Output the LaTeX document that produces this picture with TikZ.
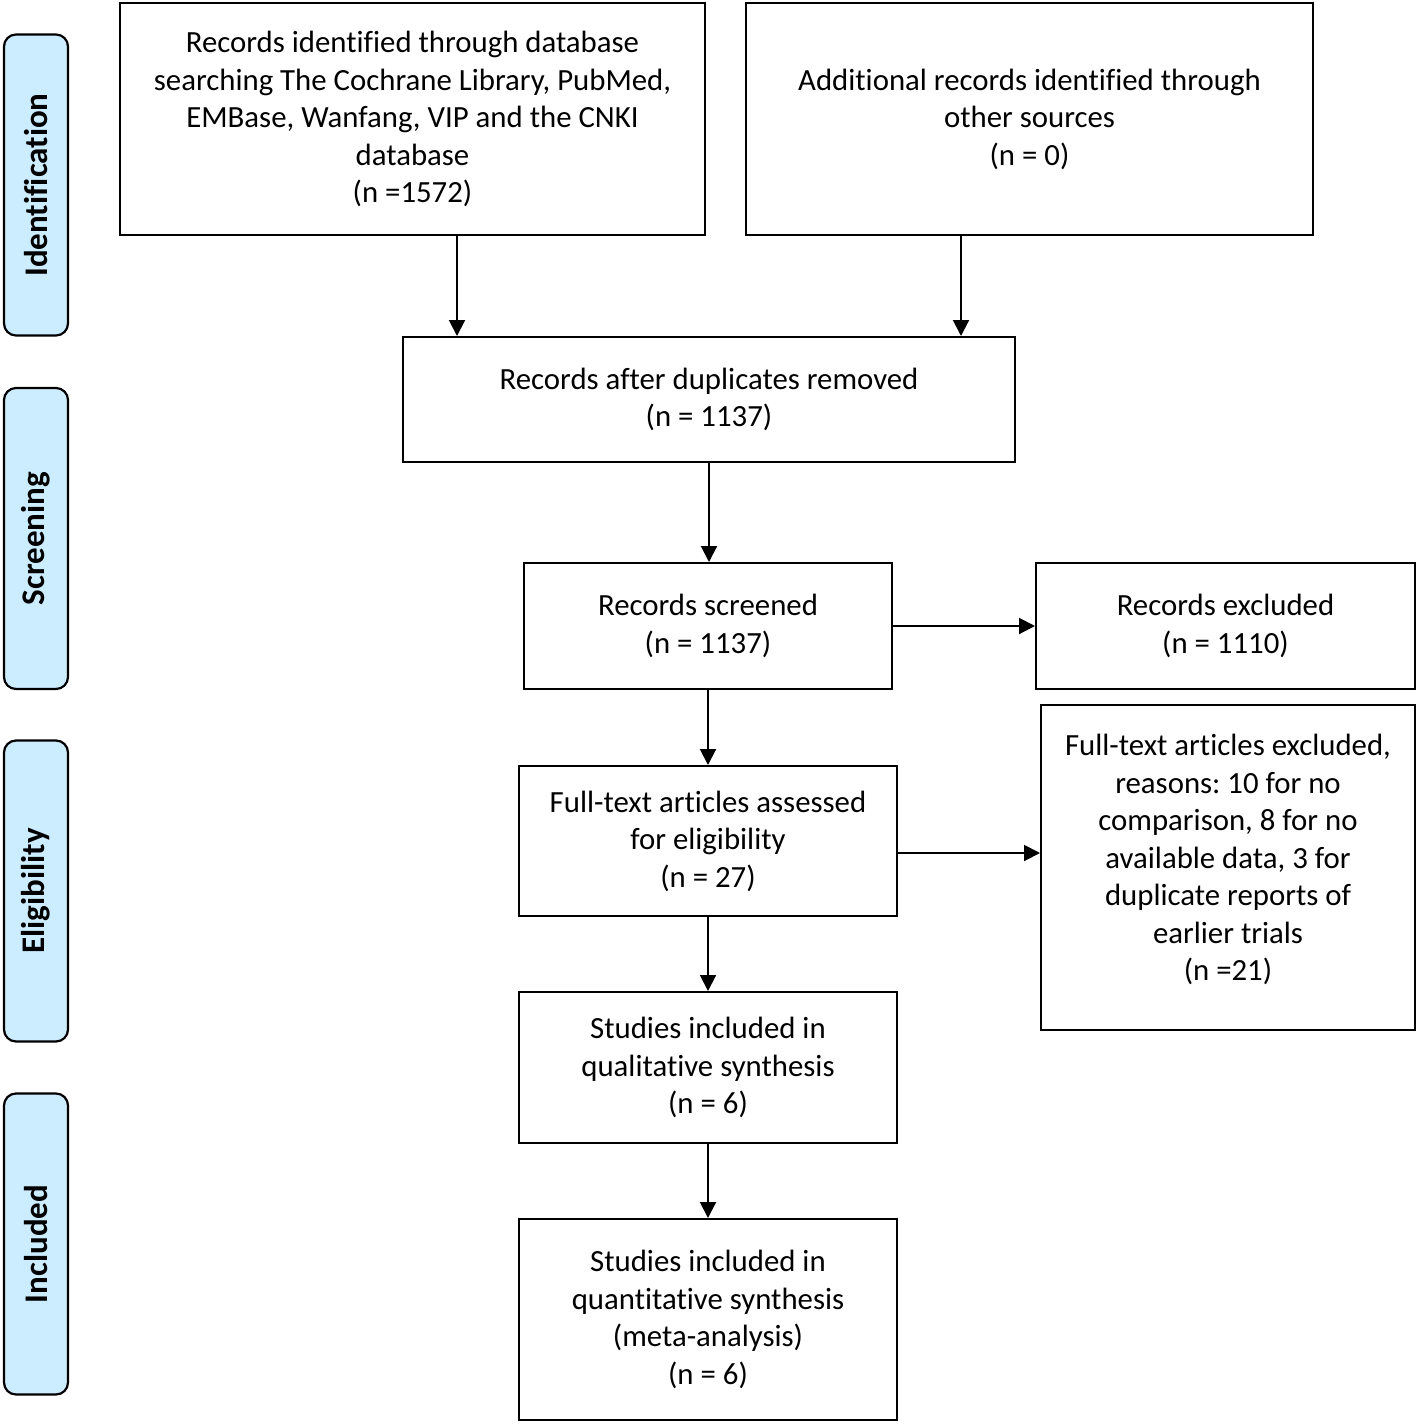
\documentclass[tikz,border=0pt]{standalone}
\usepackage{fontspec}
\setmainfont[Ligatures=NoCommon]{Carlito}
\usetikzlibrary{arrows.meta}
\definecolor{stagefill}{RGB}{204,236,255}
\frenchspacing
\tikzset{
  x=1pt, y=1pt,
  box/.style={draw=black, line width=2pt, fill=white, align=center, inner sep=0pt,
    font=\fontsize{30.8}{37.5}\selectfont},
  stage/.style={draw=black, line width=2.2pt, fill=stagefill, rounded corners=12pt,
    minimum width=64pt, minimum height=301pt, inner sep=0pt},
  stagetext/.style={rotate=90, font=\fontsize{33}{38}\selectfont\bfseries},
  arr/.style={line width=2pt, -{Triangle[length=16pt,width=16pt]}},
}
\begin{document}
\begin{tikzpicture}
\useasboundingbox (0,0) rectangle (1418,-1424);
% stage labels
\node[stage] (s1) at (36,-185) {};
\node[stagetext] (t1) at (s1.center) {Identification};
\node[stage] (s2) at (36,-538.5) {};
\node[stagetext] (t2) at (s2.center) {Screening};
\node[stage] (s3) at (36,-891) {};
\node[stagetext] (t3) at (s3.center) {Eligibility};
\node[stage] (s4) at (36,-1244) {};
\node[stagetext] (t4) at (s4.center) {Included};
% boxes
\node[box, minimum width=585pt, minimum height=232pt] (A) at (412.5,-119)
  {Records identified through database\\searching The Cochrane Library, PubMed,\\EMBase, Wanfang, VIP and the CNKI\\database\\(n =1572)};
\node[box, minimum width=567pt, minimum height=232pt] (B) at (1029.5,-119)
  {Additional records identified through\\other sources\\(n = 0)};
\node[box, minimum width=612pt, minimum height=125pt] (C) at (709,-399.5)
  {Records after duplicates removed\\(n = 1137)};
\node[box, minimum width=368pt, minimum height=126pt] (D) at (708,-626)
  {Records screened\\(n = 1137)};
\node[box, minimum width=379pt, minimum height=126pt] (E) at (1225.5,-626)
  {Records excluded\\(n = 1110)};
\node[box, minimum width=378pt, minimum height=150pt] (F) at (708,-841)
  {Full-text articles assessed\\for eligibility\\(n = 27)};
\node[box, minimum width=374pt, minimum height=325pt] (G) at (1228,-867.5) {};
\node[box, draw=none, fill=none] (Gt) at (1228,-859.5)
  {Full-text articles excluded,\\reasons: 10 for no\\comparison, 8 for no\\available data, 3 for\\duplicate reports of\\earlier trials\\(n =21)};
\node[box, minimum width=378pt, minimum height=151pt] (H) at (708,-1067.5)
  {Studies included in\\qualitative synthesis\\(n = 6)};
\node[box, minimum width=378pt, minimum height=201pt] (I) at (708,-1319.5)
  {Studies included in\\quantitative synthesis\\(meta-analysis)\\(n = 6)};
% connectors
\draw[arr] ([xshift=44.5pt]A.south) -- ([xshift=44.5pt]A.south |- C.north);
\draw[arr] ([xshift=-68.5pt]B.south) -- ([xshift=-68.5pt]B.south |- C.north);
\draw[arr] (C.south) -- (C.south |- D.north);
\draw[arr] (D.east) -- (E.west);
\draw[arr] (D.south) -- (F.north);
\draw[arr] ([yshift=-12pt]F.east) -- ([yshift=-12pt]F.east -| G.west);
\draw[arr] (F.south) -- (H.north);
\draw[arr] (H.south) -- (I.north);
\end{tikzpicture}
\end{document}
